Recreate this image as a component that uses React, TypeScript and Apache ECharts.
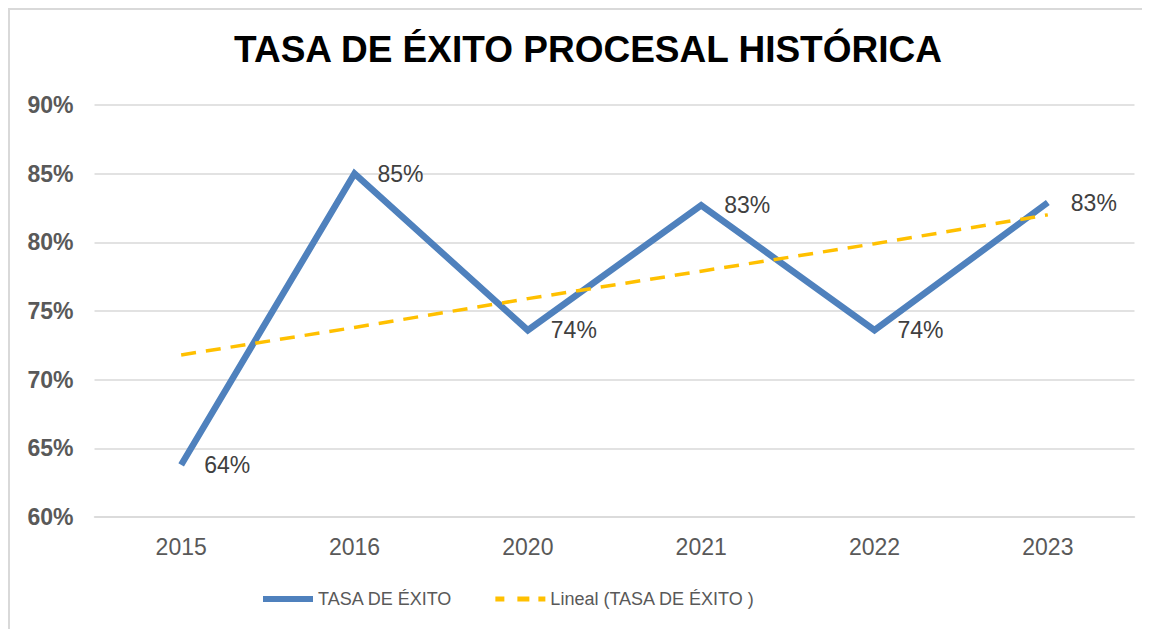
import React, { useEffect, useRef } from "react";
import * as echarts from "echarts";

const categories = ["2015", "2016", "2020", "2021", "2022", "2023"];
const successRate = [63.8, 85.0, 73.6, 82.7, 73.6, 82.9];
const trendValues = [71.8, 73.8, 75.9, 77.9, 79.9, 82.0];
const yTicks = { min: 60, max: 90, interval: 5 };
const titleText = "TASA DE ÉXITO PROCESAL HISTÓRICA";
const seriesName = "TASA DE ÉXITO";
const trendName = "Lineal (TASA DE ÉXITO )";

const FONT = "'Liberation Sans', Arial, sans-serif";
const DASH_ICON = "path://M0,0h9v5h-9z M22,0h12v5h-12z M43,0h7v5h-7z";
const SOLID_ICON = "path://M0,0h50v6h-50z";

export default function App() {
  const ref = useRef<HTMLDivElement>(null);
  useEffect(() => {
    if (!ref.current) return;
    const chart = echarts.init(ref.current, undefined, { renderer: "svg" });
    chart.setOption({
      animation: false,
      backgroundColor: "#ffffff",
      title: {
        text: titleText,
        left: "center",
        top: 16,
        textStyle: { fontFamily: FONT, fontWeight: "bold", fontSize: 37, color: "#000000" },
      },
      grid: { left: 84.5, top: 95, width: 1040, height: 412, containLabel: false },
      legend: {
        left: 248,
        top: 575,
        itemWidth: 50,
        itemHeight: 6,
        itemGap: 43,
        textStyle: { fontFamily: FONT, fontSize: 18, color: "#595959" },
        data: [
          { name: seriesName, icon: SOLID_ICON, itemStyle: { color: "#4F81BD" } },
          { name: trendName, icon: DASH_ICON, itemStyle: { color: "#FFC000" } },
        ],
      },
      xAxis: {
        type: "category",
        data: categories,
        boundaryGap: true,
        axisLine: { show: true, lineStyle: { color: "#d9d9d9", width: 1.5 } },
        axisTick: { show: false },
        axisLabel: { fontFamily: FONT, fontSize: 23, color: "#595959", margin: 18 },
      },
      yAxis: {
        type: "value",
        min: yTicks.min,
        max: yTicks.max,
        interval: yTicks.interval,
        axisLine: { show: false },
        axisTick: { show: false },
        splitLine: { lineStyle: { color: "#d9d9d9", width: 1.5 } },
        axisLabel: {
          fontFamily: FONT,
          fontSize: 23,
          fontWeight: "bold",
          color: "#595959",
          margin: 21,
          formatter: (v: number) => `${v}%`,
        },
      },
      series: [
        {
          name: seriesName,
          type: "line",
          data: successRate,
          symbol: "circle",
          symbolSize: 2,
          showSymbol: true,
          lineStyle: { color: "#4F81BD", width: 6.5, join: "miter" },
          itemStyle: { color: "rgba(0,0,0,0)" },
          label: {
            show: true,
            position: "right",
            distance: 22,
            fontFamily: FONT,
            fontSize: 23,
            color: "#404040",
            formatter: (p: any) => `${Math.round(p.value)}%`,
          },
          z: 3,
        },
        {
          name: trendName,
          type: "line",
          data: trendValues,
          symbol: "none",
          lineStyle: { color: "#FFC000", width: 3.5, type: [15, 10] },
          itemStyle: { color: "#FFC000" },
          z: 4,
        },
      ],
    });
    return () => chart.dispose();
  }, []);
  return (
    <div style={{ width: 1156, height: 636, border: "2px solid #d9d9d9" }}>
      <div ref={ref} style={{ width: 1156, height: 636 }} />
    </div>
  );
}
